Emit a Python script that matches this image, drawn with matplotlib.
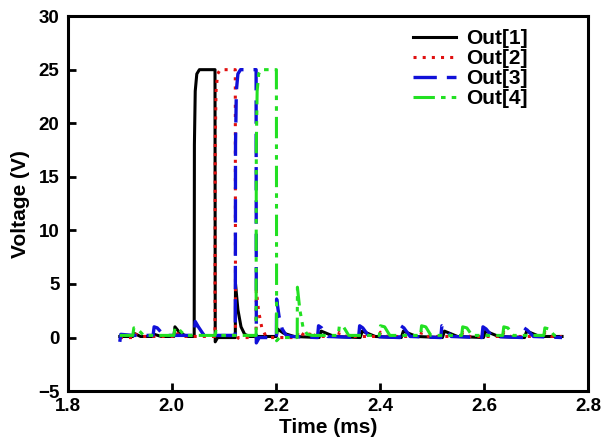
import matplotlib
matplotlib.use("Agg")
import matplotlib.pyplot as plt

# -------------------------------------------------------------------
# Data: (time in ms, voltage in V) breakpoints
# -------------------------------------------------------------------
labels = ["Out[1]", "Out[2]", "Out[3]", "Out[4]"]

out1 = [
    (1.900, 0.1), (1.925, 0.1), (1.927, 0.4), (1.940, 0.1),
    (1.964, 0.1), (1.966, 0.3), (1.980, 0.1),
    (2.004, 0.1), (2.006, 1.0), (2.016, 0.4), (2.030, 0.1),
    (2.043, 0.1), (2.0434, 18.0), (2.045, 23.0), (2.048, 24.6), (2.053, 25.0),
    (2.083, 25.0), (2.0834, -0.4), (2.088, 0.0),
    (2.122, 0.0), (2.1224, 5.0), (2.127, 2.6), (2.133, 1.0), (2.140, 0.3), (2.150, 0.1),
    (2.201, 0.1), (2.203, 0.8), (2.215, 0.4), (2.235, 0.1),
    (2.283, 0.0), (2.287, 0.6), (2.297, 0.4), (2.312, 0.1),
    (2.362, 0.0), (2.366, 0.6), (2.376, 0.4), (2.391, 0.1),
    (2.441, 0.0), (2.445, 0.6), (2.455, 0.4), (2.470, 0.1),
    (2.520, 0.0), (2.524, 0.6), (2.534, 0.4), (2.549, 0.1),
    (2.599, 0.0), (2.603, 0.6), (2.613, 0.4), (2.628, 0.1),
    (2.678, 0.0), (2.682, 0.6), (2.692, 0.4), (2.707, 0.1),
    (2.750, 0.1),
]

out2 = [
    (1.900, 0.0), (1.925, 0.0), (1.927, 0.4), (1.940, 0.1),
    (2.004, 0.1), (2.006, 0.5), (2.020, 0.1),
    (2.083, 0.1), (2.0834, 18.0), (2.085, 23.0), (2.088, 24.6), (2.093, 25.0),
    (2.122, 25.0), (2.1224, -0.3), (2.128, 0.0),
    (2.162, 0.0), (2.1624, 4.4), (2.167, 2.4), (2.173, 0.9), (2.180, 0.2), (2.190, 0.0),
    (2.241, 0.0), (2.243, 0.6), (2.255, 0.2),
    (2.264, 0.1), (2.266, 0.6), (2.276, 0.1),
    (2.320, 0.1), (2.322, 0.5), (2.335, 0.1),
    (2.399, 0.1), (2.401, 0.5), (2.414, 0.1),
    (2.478, 0.1), (2.480, 0.5), (2.493, 0.1),
    (2.557, 0.1), (2.559, 0.5), (2.572, 0.1),
    (2.636, 0.1), (2.638, 0.5), (2.651, 0.1),
    (2.715, 0.1), (2.717, 0.5), (2.730, 0.1),
    (2.750, 0.1),
]

out3 = [
    (1.900, -0.4), (1.902, 0.3), (1.925, 0.2),
    (1.964, 0.2), (1.966, 1.0), (1.972, 0.9), (1.985, 0.2),
    (2.043, 0.2), (2.045, 1.5), (2.051, 1.0), (2.062, 0.2),
    (2.122, 0.2), (2.1224, 18.0), (2.124, 23.0), (2.127, 24.6), (2.132, 25.0),
    (2.162, 25.0), (2.1624, -0.5), (2.168, 0.0),
    (2.201, 0.0), (2.2014, 3.6), (2.206, 2.0), (2.212, 0.8), (2.220, 0.2), (2.230, 0.1),
    (2.280, 0.0), (2.282, 1.1), (2.288, 0.9), (2.300, 0.1),
    (2.359, 0.0), (2.361, 1.1), (2.367, 0.9), (2.379, 0.1),
    (2.438, 0.0), (2.440, 1.1), (2.446, 0.9), (2.458, 0.1),
    (2.517, 0.0), (2.519, 1.1), (2.525, 0.9), (2.537, 0.1),
    (2.596, 0.0), (2.598, 1.0), (2.604, 0.8), (2.616, 0.1),
    (2.675, 0.0), (2.677, 0.9), (2.683, 0.7), (2.695, 0.1),
    (2.750, 0.0),
]

out4 = [
    (1.900, 0.2), (1.925, 0.2), (1.927, 0.9), (1.934, 0.8), (1.946, 0.2),
    (2.004, 0.2), (2.006, 0.9), (2.013, 0.8), (2.025, 0.2),
    (2.083, 0.2), (2.085, 0.6), (2.095, 0.2),
    (2.162, 0.2), (2.1624, 18.0), (2.164, 23.0), (2.167, 24.6), (2.172, 25.0),
    (2.201, 25.0), (2.2014, -0.3), (2.207, 0.0),
    (2.241, 0.0), (2.2414, 4.7), (2.246, 2.6), (2.252, 1.0), (2.260, 0.3), (2.270, 0.2),
    (2.320, 0.2), (2.322, 1.1), (2.330, 1.0), (2.340, 0.2),
    (2.399, 0.2), (2.401, 1.1), (2.409, 1.0), (2.419, 0.2),
    (2.478, 0.2), (2.480, 1.1), (2.488, 1.0), (2.498, 0.2),
    (2.557, 0.2), (2.559, 1.0), (2.567, 0.9), (2.577, 0.2),
    (2.636, 0.2), (2.638, 1.0), (2.646, 0.9), (2.656, 0.2),
    (2.715, 0.2), (2.717, 0.9), (2.725, 0.8), (2.735, 0.2),
    (2.750, 0.2),
]

x_ticks = [1.8, 2.0, 2.2, 2.4, 2.6, 2.8]
y_ticks = [-5, 0, 5, 10, 15, 20, 25, 30]

# -------------------------------------------------------------------
# Style
# -------------------------------------------------------------------
plt.rcParams["font.family"] = ["Liberation Sans", "DejaVu Sans"]
plt.rcParams["font.weight"] = "bold"

styles = [
    dict(color="black", linestyle="-", linewidth=2.2),
    dict(color="#e01010", linestyle=(0, (1, 2)), linewidth=2.2),
    dict(color="#1010d8", linestyle=(0, (7, 3)), linewidth=2.4),
    dict(color="#22e022", linestyle=(0, (7, 2, 1.5, 2, 1.5, 2)), linewidth=2.2),
]

fig = plt.figure(figsize=(6.05, 4.47), dpi=100)
ax = fig.add_axes([0.112, 0.125, 0.860, 0.839])

for series, label, st in zip([out1, out2, out3, out4], labels, styles):
    t, v = zip(*series)
    ax.plot(t, v, label=label, **st)

ax.set_xlim(1.8, 2.8)
ax.set_ylim(-5, 30)
ax.set_xticks(x_ticks)
ax.set_xticklabels([f"{x:.1f}" for x in x_ticks])
ax.set_yticks(y_ticks)
ax.tick_params(direction="in", length=6, width=2, labelsize=13.5)
ax.tick_params(axis="x", pad=5)
ax.tick_params(axis="y", pad=6)
for lab in ax.get_xticklabels() + ax.get_yticklabels():
    lab.set_fontweight("bold")
for sp in ax.spines.values():
    sp.set_linewidth(2.2)

ax.set_xlabel("Time (ms)", fontsize=15, fontweight="bold", labelpad=2)
ax.set_ylabel("Voltage (V)", fontsize=15, fontweight="bold", labelpad=6)

ax.legend(loc="upper right", bbox_to_anchor=(0.885, 0.965), borderaxespad=0,
          borderpad=0, frameon=False,
          handlelength=2.05, handletextpad=0.5, labelspacing=0.05,
          prop=dict(size=15, weight="bold"))

fig.savefig("out.png", dpi=100)
